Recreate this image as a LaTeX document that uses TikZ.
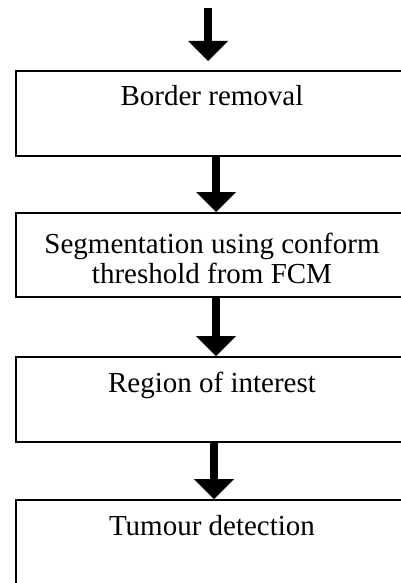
\documentclass[tikz,border=0pt]{standalone}
\usepackage{fontspec}
\setmainfont{Liberation Serif}
\usetikzlibrary{arrows.meta}
\begin{document}
\begin{tikzpicture}[x=1pt,y=-1pt,
  box/.style={draw=black,line width=2pt,fill=white,rectangle,inner sep=0pt,
    minimum width=392pt,font=\fontsize{29}{30}\selectfont,align=center},
  onebox/.style={box,text height=35pt,text depth=50pt},
  arr/.style={line width=8pt,-{Triangle[width=40pt,length=20pt,line width=0pt]}}]
\useasboundingbox (0,0) rectangle (401,583);
\clip (0,0) rectangle (401,583);
\fill[white] (0,0) rectangle (401,583);
\node[onebox] (b1) at (212,113.5) {Border removal};
\node[box,minimum height=84pt] (b2) at (212,255) {\rule{0pt}{27pt}Segmentation using conform\\threshold from FCM};
\node[onebox] (b3) at (212,399.5) {Region of interest};
\node[onebox] (b4) at (212,542.5) {Tumour detection};
\coordinate (a0) at (208,8);
\draw[arr,shorten >=9pt] (a0) -- (a0 |- b1.north);
\draw[arr] ([xshift=4pt]b1.south) -- ([xshift=4pt]b2.north);
\draw[arr] ([xshift=4pt]b2.south) -- ([xshift=4pt]b3.north);
\draw[arr] ([xshift=2pt]b3.south) -- ([xshift=2pt]b4.north);
\end{tikzpicture}
\end{document}
